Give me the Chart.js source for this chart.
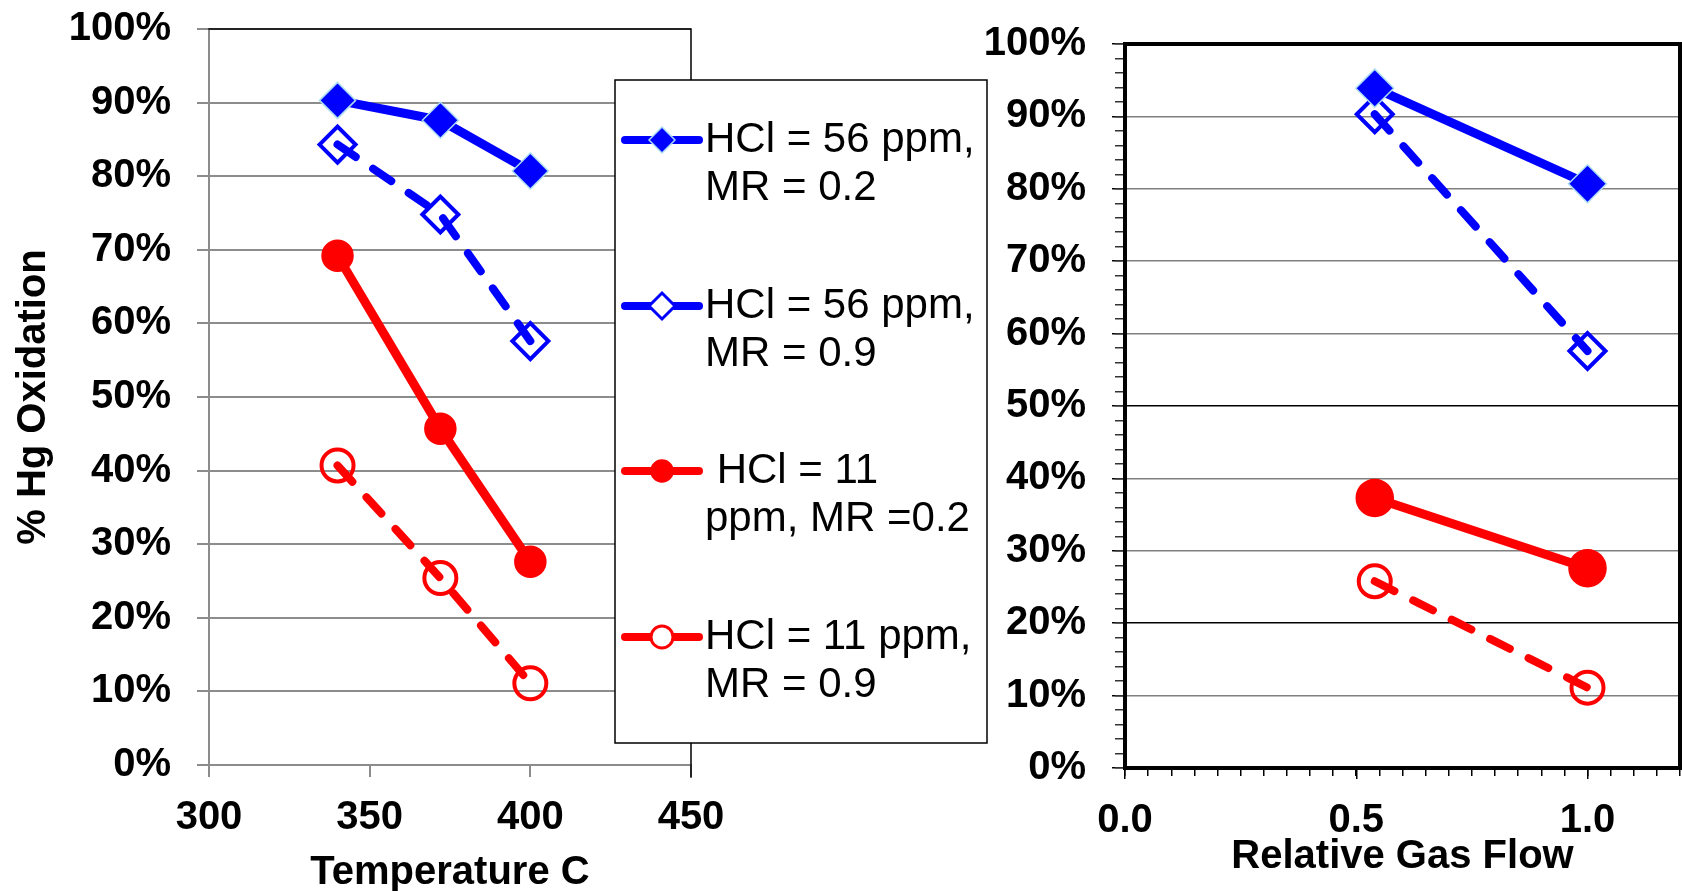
<!DOCTYPE html>
<html>
<head>
<meta charset="utf-8">
<title>% Hg Oxidation</title>
<script src="https://cdn.jsdelivr.net/npm/chart.js@4.4.1/dist/chart.umd.min.js"></script>
<style>
    html, body { margin: 0; padding: 0; background: #fff; overflow: hidden; }
    #wrap { position: relative; width: 1682px; height: 891px; overflow: hidden; }
    #tempChart { position: absolute; left: 0; top: 0; }
    #flowChart { position: absolute; left: 960px; top: 0; }
</style>
</head>
<body>
<div id="wrap">
    <canvas id="tempChart" width="1000" height="891"></canvas>
    <canvas id="flowChart" width="742" height="891"></canvas>
</div>
<script>
// Температура, °C
const tempC = [340, 372, 400];
const temp56mr02 = [90.3, 87.6, 80.7];
const temp56mr09 = [84.3, 74.8, 57.6];
const temp11mr02 = [69.2, 45.7, 27.6];
const temp11mr09 = [40.7, 25.4, 11.1];

// Относительный расход газа
const flowRel = [0.54, 1.0];
const flow56mr02 = [93.9, 80.7];
const flow56mr09 = [90.3, 57.6];
const flow11mr02 = [37.3, 27.6];
const flow11mr09 = [25.8, 11.1];

// Оси
const tempRange = [300, 450];
const flowRange = [0, 1.2];
const pctRange = [0, 100];

// Подписи легенды (по строкам)
const legendLabels = [
    ['HCl = 56 ppm,', 'MR = 0.2'],
    ['HCl = 56 ppm,', 'MR = 0.9'],
    [' HCl = 11', 'ppm, MR =0.2'],
    ['HCl = 11 ppm,', 'MR = 0.9']
];

const seriesStyle = [
    { color: '#0000ff', point: 'rectRot', filled: true, dashed: false },
    { color: '#0000ff', point: 'rectRot', filled: false, dashed: true },
    { color: '#ff0000', point: 'circle', filled: true, dashed: false },
    { color: '#ff0000', point: 'circle', filled: false, dashed: true }
];

const FONT = "'Liberation Sans', Arial, sans-serif";
const tickFont = { family: FONT, size: 40, weight: 'bold' };
const titleFont = { family: FONT, size: 40, weight: 'bold', lineHeight: 0.8 };

// Убираем запас под крайние подписи — область построения задаётся layout.padding
function noEdgePadding(s) {
    s.paddingTop = 0;
    s.paddingBottom = 0;
    s.paddingLeft = 0;
    s.paddingRight = 0;
}

function buildDatasets(xs, yLists, radii) {
    return yLists.map((ys, i) => {
        const s = seriesStyle[i];
        const key = s.point + (s.filled ? 'Filled' : 'Open');
        return {
            label: legendLabels[i].join(' ').trim(),
            data: xs.map((x, j) => ({ x: x, y: ys[j] })),
            borderColor: s.color,
            backgroundColor: s.color,
            borderWidth: s.dashed ? 8 : 9,
            borderDash: s.dashed ? [22, 21] : [],
            borderCapStyle: 'round',
            borderJoinStyle: 'round',
            tension: 0,
            pointStyle: s.point,
            pointRadius: radii[key],
            pointBackgroundColor: s.filled ? s.color : 'rgba(0,0,0,0)',
            pointBorderColor: (s.filled && s.point === 'rectRot') ? '#a9dcf2' : s.color,
            pointBorderWidth: s.filled ? 1.5 : 4,
            xAxisID: 'x',
            yAxisID: 'y'
        };
    });
}

// Рамка области построения (верх/право)
const plotFrame = {
    id: 'plotFrame',
    beforeDatasetsDraw(chart, args, opts) {
        const { ctx, chartArea: a } = chart;
        ctx.save();
        ctx.strokeStyle = opts.color;
        ctx.lineWidth = opts.width;
        ctx.lineCap = 'square';
        ctx.beginPath();
        ctx.moveTo(a.left, a.top);
        ctx.lineTo(a.right, a.top);
        ctx.lineTo(a.right, a.bottom + (opts.extend || 0));
        ctx.stroke();
        ctx.restore();
    }
};

// Легенда в рамке, текст в две строки
const boxLegend = {
    id: 'boxLegend',
    afterDraw(chart, args, opts) {
        if (!opts.show) return;
        const { ctx } = chart;
        const b = opts.box;
        ctx.save();
        ctx.fillStyle = '#fff';
        ctx.fillRect(b.x, b.y, b.w, b.h);
        ctx.strokeStyle = '#000';
        ctx.lineWidth = 1.5;
        ctx.strokeRect(b.x, b.y, b.w, b.h);

        chart.data.datasets.forEach((ds, i) => {
            const s = seriesStyle[i];
            const y = opts.rows[i];
            ctx.strokeStyle = ds.borderColor;
            ctx.lineWidth = 8;
            ctx.lineCap = 'round';
            ctx.setLineDash([]);
            ctx.beginPath();
            ctx.moveTo(opts.lineX[0], y);
            ctx.lineTo(opts.lineX[1], y);
            ctx.stroke();

            const mx = (opts.lineX[0] + opts.lineX[1]) / 2;
            ctx.fillStyle = s.filled ? s.color : '#fff';
            ctx.strokeStyle = (s.filled && s.point === 'rectRot') ? '#a9dcf2' : s.color;
            ctx.lineWidth = s.filled ? 1.5 : 3;
            Chart.helpers.drawPoint(ctx, {
                pointStyle: s.point,
                radius: s.point === 'rectRot' ? 13 : 11,
                rotation: 0,
                borderWidth: s.filled ? 1.5 : 3
            }, mx, y);

            ctx.fillStyle = '#000';
            ctx.font = '42px ' + FONT;
            ctx.textBaseline = 'middle';
            ctx.textAlign = 'left';
            legendLabels[i].forEach((t, k) => {
                ctx.fillText(t, opts.textX, y + k * opts.lineGap);
            });
        });
        ctx.restore();
    }
};

Chart.register(plotFrame, boxLegend);

function createTempChart() {
    const ctx = document.getElementById('tempChart').getContext('2d');
    return new Chart(ctx, {
        type: 'line',
        data: {
            datasets: buildDatasets(tempC, [temp56mr02, temp56mr09, temp11mr02, temp11mr09],
                { rectRotFilled: 18, rectRotOpen: 18, circleFilled: 15.5, circleOpen: 16 })
        },
        options: {
            responsive: false,
            animation: false,
            events: [],
            layout: { padding: { left: 0, top: 29, right: 309, bottom: 0 } },
            scales: {
                x: {
                    type: 'linear',
                    position: 'bottom',
                    min: tempRange[0],
                    max: tempRange[1],
                    afterFit: s => { noEdgePadding(s); s.height = 126; },
                    grid: { drawOnChartArea: false, tickLength: 12, color: '#8c8c8c', lineWidth: 2 },
                    border: { display: true, color: '#8c8c8c', width: 2 },
                    ticks: { stepSize: 50, padding: 17, color: '#000', font: tickFont, maxRotation: 0 },
                    title: { display: true, text: 'Temperature C', color: '#000', font: titleFont, padding: { top: 0, bottom: 2 } }
                },
                y: {
                    type: 'linear',
                    position: 'left',
                    min: pctRange[0],
                    max: pctRange[1],
                    afterFit: s => { noEdgePadding(s); s.width = 209; },
                    grid: { color: '#8c8c8c', lineWidth: 2, tickLength: 12 },
                    border: { display: true, color: '#8c8c8c', width: 2 },
                    ticks: { stepSize: 10, padding: 26, color: '#000', font: tickFont, callback: v => v + '%' },
                    title: { display: true, text: '% Hg Oxidation', color: '#000', font: titleFont, padding: { top: 18, bottom: 0 } }
                }
            },
            plugins: {
                legend: { display: false },
                tooltip: { enabled: false },
                plotFrame: { color: '#000', width: 1.5, extend: 12 },
                boxLegend: {
                    show: true,
                    box: { x: 615, y: 80, w: 372, h: 663 },
                    rows: [140, 306, 471, 637],
                    lineGap: 48,
                    lineX: [625, 699],
                    textX: 705
                }
            }
        }
    });
}

function createFlowChart() {
    const ctx = document.getElementById('flowChart').getContext('2d');
    return new Chart(ctx, {
        type: 'line',
        data: {
            datasets: buildDatasets(flowRel, [flow56mr02, flow56mr09, flow11mr02, flow11mr09],
                { rectRotFilled: 19, rectRotOpen: 18, circleFilled: 18.5, circleOpen: 16 })
        },
        options: {
            responsive: false,
            animation: false,
            events: [],
            layout: { padding: { left: 0, top: 44, right: 9, bottom: 0 } },
            scales: {
                x: {
                    type: 'linear',
                    position: 'bottom',
                    weight: 1,
                    min: flowRange[0],
                    max: flowRange[1],
                    afterFit: s => { noEdgePadding(s); s.height = 123; },
                    grid: { drawOnChartArea: false, tickLength: 11, color: '#000', lineWidth: 1.5 },
                    border: { display: true, color: '#000', width: 4 },
                    ticks: {
                        stepSize: 0.5, includeBounds: false, padding: 18, color: '#000', font: tickFont, maxRotation: 0,
                        callback: v => v.toFixed(1)
                    },
                    title: { display: true, text: 'Relative Gas Flow', color: '#000', font: titleFont, padding: { top: 0, bottom: 18 } }
                },
                xMinor: {
                    type: 'linear',
                    position: 'bottom',
                    weight: 0,
                    min: flowRange[0],
                    max: flowRange[1],
                    afterFit: s => { noEdgePadding(s); s.height = 0; },
                    grid: { drawOnChartArea: false, tickLength: 8, color: '#000', lineWidth: 1.5 },
                    border: { display: false },
                    ticks: { display: false, stepSize: 0.05 }
                },
                y: {
                    type: 'linear',
                    position: 'left',
                    weight: 1,
                    min: pctRange[0],
                    max: pctRange[1],
                    afterFit: s => { noEdgePadding(s); s.width = 165; },
                    grid: {
                        tickLength: 13,
                        tickColor: '#000',
                        color: c => (c.tick && (c.tick.value === 50 || c.tick.value === 20)) ? '#000' : '#7f7f7f',
                        lineWidth: 1.5
                    },
                    border: { display: true, color: '#000', width: 4 },
                    ticks: { stepSize: 10, padding: 26, color: '#000', font: tickFont, callback: v => v + '%' }
                },
                yMinor: {
                    type: 'linear',
                    position: 'left',
                    weight: 0,
                    min: pctRange[0],
                    max: pctRange[1],
                    afterFit: s => { noEdgePadding(s); s.width = 0; },
                    grid: { drawOnChartArea: false, tickLength: 10, color: '#333', lineWidth: 1.5 },
                    border: { display: false },
                    ticks: { display: false, stepSize: 2 }
                }
            },
            plugins: {
                legend: { display: false },
                tooltip: { enabled: false },
                plotFrame: { color: '#000', width: 4, extend: 0 },
                boxLegend: { show: false }
            }
        }
    });
}

document.addEventListener('DOMContentLoaded', function () {
    createTempChart();
    createFlowChart();
});
</script>
</body>
</html>
